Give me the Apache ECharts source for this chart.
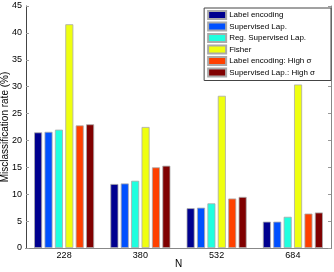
<!DOCTYPE html>
<html><head><meta charset="utf-8">
<script src="https://cdn.jsdelivr.net/npm/echarts@6/dist/echarts.min.js"></script>
<style>html,body{margin:0;padding:0;background:#fff}#c{width:334px;height:272px}</style>
</head><body><div id="c"></div>
<script>
const categories = ['228', '380', '532', '684'];
const seriesNames = ['Label encoding', 'Supervised Lap.', 'Reg. Supervised Lap.', 'Fisher', 'Label encoding: High σ', 'Supervised Lap.: High σ'];
const labelEncoding = [21.5, 11.9, 7.4, 4.9];
const supervisedLap = [21.6, 12.0, 7.5, 4.9];
const regSupervisedLap = [22.0, 12.5, 8.3, 5.8];
const fisher = [41.6, 22.5, 28.3, 30.4];
const labelEncodingHigh = [22.8, 15.0, 9.2, 6.4];
const supervisedLapHigh = [23.0, 15.3, 9.5, 6.6];
const yTicks = [0, 5, 10, 15, 20, 25, 30, 35, 40, 45];

const values = [labelEncoding, supervisedLap, regSupervisedLap, fisher, labelEncodingHigh, supervisedLapHigh];
const colors = ['#00008f', '#0050ff', '#20ffdf', '#efff10', '#ff4000', '#800000'];
const font = 'Liberation Sans, Arial, sans-serif';

const chart = echarts.init(document.getElementById('c'), null, {renderer: 'canvas'});
chart.setOption({
  animation: false,
  grid: {left: 26, right: 3, top: 6, bottom: 24, containLabel: false, outerBoundsMode: 'none'},
  legend: {
    orient: 'vertical', right: 3, top: 8,
    itemWidth: 18, itemHeight: 8, itemGap: 1.5,
    padding: [2, 16, 3, 3],
    borderColor: '#444', borderWidth: 1, backgroundColor: '#fff',
    icon: 'rect',
    textStyle: {fontFamily: font, fontSize: 8, color: '#000', padding: [0, 0, 0, -2], lineHeight: 9},
    data: seriesNames
  },
  xAxis: [{
    type: 'category', data: categories, position: 'bottom',
    name: 'N', nameLocation: 'middle', nameGap: 11.5, nameMoveOverlap: false,
    nameTextStyle: {fontFamily: font, fontSize: 10, color: '#000'},
    axisLine: {lineStyle: {color: '#222', width: 1}},
    axisTick: {inside: true, alignWithLabel: true, length: 3, lineStyle: {color: '#999'}},
    axisLabel: {fontFamily: font, fontSize: 9, color: '#000', margin: 3}
  }, {
    type: 'category', data: categories, position: 'top',
    axisLine: {lineStyle: {color: '#888', width: 1}},
    axisTick: {inside: true, alignWithLabel: true, length: 3, lineStyle: {color: '#999'}},
    axisLabel: {show: false}
  }],
  yAxis: [{
    type: 'value', min: yTicks[0], max: yTicks[yTicks.length - 1], interval: 5, position: 'left',
    name: 'Misclassification rate (%)', nameLocation: 'middle', nameGap: 16, nameMoveOverlap: false,
    nameTextStyle: {fontFamily: font, fontSize: 10, color: '#000'},
    axisLine: {show: true, lineStyle: {color: '#444', width: 1}},
    axisTick: {show: true, inside: true, length: 3, lineStyle: {color: '#999'}},
    axisLabel: {fontFamily: font, fontSize: 9, color: '#000', margin: 4},
    splitLine: {show: false}
  }, {
    type: 'value', min: yTicks[0], max: yTicks[yTicks.length - 1], interval: 5, position: 'right',
    axisLine: {show: true, lineStyle: {color: '#888', width: 1}},
    axisTick: {show: true, inside: true, length: 3, lineStyle: {color: '#999'}},
    axisLabel: {show: false},
    splitLine: {show: false}
  }],
  series: seriesNames.map((n, i) => ({
    name: n, type: 'bar', data: values[i],
    barWidth: 8, barGap: '30%',
    itemStyle: {color: colors[i], borderColor: '#aaa', borderWidth: 0.8}
  }))
});
</script></body></html>
